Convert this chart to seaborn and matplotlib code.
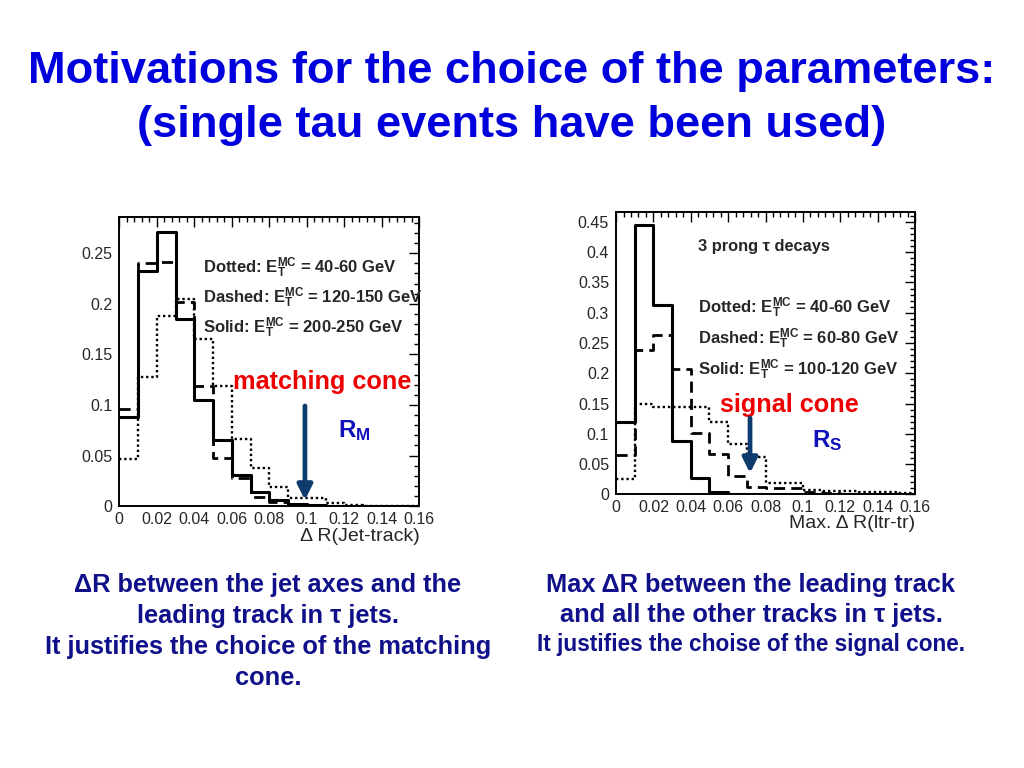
import numpy as np
import pandas as pd
import matplotlib
matplotlib.use("Agg")
import matplotlib.pyplot as plt
from matplotlib.ticker import MultipleLocator, FuncFormatter
import seaborn as sns

# ---------------- data ----------------
bin_edges = [round(0.01 * i, 2) for i in range(17)]

# Left: Delta R(Jet-track)
left_dotted = [0.047, 0.128, 0.188, 0.205, 0.165, 0.119, 0.066, 0.038, 0.019, 0.008,
               0.008, 0.003, 0.001, 0.0005, 0.0, 0.0]
left_dashed = [0.096, 0.240, 0.241, 0.202, 0.119, 0.048, 0.028, 0.009, 0.004, 0.002,
               0.001, 0.0005, 0.0, 0.0, 0.0, 0.0]
left_solid = [0.088, 0.232, 0.271, 0.185, 0.105, 0.065, 0.031, 0.014, 0.006, 0.002,
              0.001, 0.0005, 0.0, 0.0, 0.0, 0.0]

# Right: Max Delta R(ltr-tr), 3 prong tau decays
right_dotted = [0.026, 0.149, 0.144, 0.145, 0.145, 0.119, 0.083, 0.061, 0.018, 0.018,
                0.007, 0.005, 0.005, 0.004, 0.003, 0.002]
right_dashed = [0.065, 0.238, 0.264, 0.207, 0.102, 0.067, 0.030, 0.012, 0.011, 0.011,
                0.004, 0.002, 0.001, 0.001, 0.001, 0.0]
right_solid = [0.119, 0.445, 0.312, 0.088, 0.0276, 0.003, 0.001, 0.0005, 0.0, 0.0,
               0.0, 0.0, 0.0, 0.0, 0.0, 0.0]

left_labels = ["Dotted: $\\mathbf{E_T^{MC}}$ = 40-60 GeV",
               "Dashed: $\\mathbf{E_T^{MC}}$ = 120-150 GeV",
               "Solid: $\\mathbf{E_T^{MC}}$ = 200-250 GeV"]
right_labels = ["Dotted: $\\mathbf{E_T^{MC}}$ = 40-60 GeV",
                "Dashed: $\\mathbf{E_T^{MC}}$ = 60-80 GeV",
                "Solid: $\\mathbf{E_T^{MC}}$ = 100-120 GeV"]

title_lines = ["Motivations for the choice of the parameters:",
               "(single tau events have been used)"]
left_caption = ["\u0394R between the jet axes and the",
                "leading track in \u03c4 jets.",
                "It justifies the choice of the matching",
                "cone."]
right_caption = ["Max \u0394R between the leading track",
                 "and all the other tracks in \u03c4 jets.",
                 "It justifies the choise of the signal cone."]

# annotation anchors (data coords)
left_arrow = (0.099, 0.099, 0.006)
right_arrow = (0.0717, 0.126, 0.035)

# ---------------- style ----------------
sns.set_style("white")
plt.rcParams["font.family"] = ["Liberation Sans", "DejaVu Sans"]
plt.rcParams["mathtext.fontset"] = "custom"
plt.rcParams["mathtext.rm"] = "Liberation Sans"
plt.rcParams["mathtext.bf"] = "Liberation Sans:bold"
plt.rcParams["mathtext.it"] = "Liberation Sans:italic"

fig = plt.figure(figsize=(10.24, 7.68), dpi=100)
fig.patch.set_facecolor("white")

styles = {
    "dotted": dict(linestyle=(0, (1, 1.2)), linewidth=1.7),
    "dashed": dict(linestyle=(0, (4, 2.2)), linewidth=2.0),
    "solid": dict(linestyle="-", linewidth=2.2),
}


def draw_hist(ax, series):
    centers = [(a + b) / 2 for a, b in zip(bin_edges[:-1], bin_edges[1:])]
    for name, vals in series:
        df = pd.DataFrame({"x": centers, "w": vals})
        sns.histplot(data=df, x="x", weights="w", bins=bin_edges, element="step",
                     fill=False, color="black", ax=ax, **styles[name])


def style_axes(ax, ymax, ymajor):
    ax.set_xlim(0, 0.16)
    ax.set_ylim(0, ymax)
    ax.xaxis.set_major_locator(MultipleLocator(0.02))
    ax.xaxis.set_minor_locator(MultipleLocator(0.004))
    ax.yaxis.set_major_locator(MultipleLocator(ymajor))
    ax.yaxis.set_minor_locator(MultipleLocator(0.01))
    fmt = FuncFormatter(lambda v, p: "%g" % round(v, 4))
    ax.xaxis.set_major_formatter(fmt)
    ax.yaxis.set_major_formatter(fmt)
    ax.tick_params(which="both", direction="in", top=True, right=True,
                   labelsize=11.5, width=1, color="black")
    ax.tick_params(which="major", length=7)
    ax.tick_params(which="minor", length=3.5)
    ax.tick_params(axis="x", pad=4)
    ax.tick_params(axis="y", pad=5)
    for s in ax.spines.values():
        s.set_visible(True)
        s.set_linewidth(1.4)
        s.set_color("black")
    ax.set_ylabel("")
    ax.set_xlabel("")


# ---------------- left panel ----------------
axL = fig.add_axes([0.1165, 0.341, 0.293, 0.3767])
draw_hist(axL, [("dotted", left_dotted), ("dashed", left_dashed), ("solid", left_solid)])
style_axes(axL, 0.286, 0.05)
axL.set_xlabel("\u0394 R(Jet-track)", fontsize=14, loc="right", labelpad=1)
for i, lab in enumerate(left_labels):
    axL.text(0.0446, 0.2355 - 0.0298 * i, lab, fontsize=12, fontweight="bold",
             va="center", ha="left")
axL.text(0.0606, 0.1227, "matching cone", color="#ee0000", fontsize=18.2,
         fontweight="bold", va="center", ha="left")
axL.text(0.1166, 0.075, "$\\mathbf{R_M}$", color="#1111bb", fontsize=17.5,
         va="center", ha="left")
axL.annotate("", xy=(left_arrow[0], left_arrow[2]), xytext=(left_arrow[0], left_arrow[1]),
             arrowprops=dict(arrowstyle="-|>", color="#0d3b6e", lw=3.4,
                             mutation_scale=22, shrinkA=0, shrinkB=0))

# ---------------- right panel ----------------
axR = fig.add_axes([0.6016, 0.3564, 0.292, 0.368])
draw_hist(axR, [("dotted", right_dotted), ("dashed", right_dashed), ("solid", right_solid)])
style_axes(axR, 0.467, 0.05)
axR.set_xlabel("Max. \u0394 R(ltr-tr)", fontsize=14, loc="right", labelpad=0)
axR.text(0.0439, 0.409, "3 prong \u03c4 decays", fontsize=11.8, fontweight="bold",
         va="center", ha="left")
for i, lab in enumerate(right_labels):
    axR.text(0.0439, 0.308 - 0.0513 * i, lab, fontsize=12, fontweight="bold",
             va="center", ha="left")
axR.text(0.0557, 0.148, "signal cone", color="#ee0000", fontsize=18.2,
         fontweight="bold", va="center", ha="left")
axR.text(0.105, 0.088, "$\\mathbf{R_S}$", color="#1111bb", fontsize=17.5,
         va="center", ha="left")
axR.annotate("", xy=(right_arrow[0], right_arrow[2]), xytext=(right_arrow[0], right_arrow[1]),
             arrowprops=dict(arrowstyle="-|>", color="#0d3b6e", lw=3.4,
                             mutation_scale=22, shrinkA=0, shrinkB=0))

# ---------------- titles and captions ----------------
fig.text(0.5, 1 - 71 / 768, title_lines[0], ha="center", va="center",
         fontsize=32.6, fontweight="bold", color="#0000dd")
fig.text(0.5, 1 - 126 / 768, title_lines[1], ha="center", va="center",
         fontsize=32.6, fontweight="bold", color="#0000dd")

for i, line in enumerate(left_caption):
    fig.text(268 / 1024, 1 - (585 + 31 * i) / 768, line, ha="center", va="center",
             fontsize=18.3, fontweight="bold", color="#10108a")
cap_y = [585, 615, 644]
cap_size = [18.3, 18.3, 16.3]
for line, y, s in zip(right_caption, cap_y, cap_size):
    fig.text(751 / 1024, 1 - y / 768, line, ha="center", va="center",
             fontsize=s, fontweight="bold", color="#10108a")

fig.savefig("out.png", dpi=100, facecolor="white")
